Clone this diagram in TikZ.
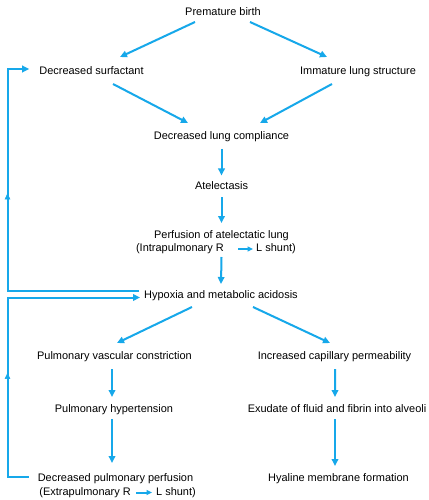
\documentclass[tikz,border=0pt]{standalone}
\usepackage{fontspec}
\setmainfont{Liberation Sans}
\usetikzlibrary{arrows.meta,calc,decorations.markings}
\definecolor{flow}{RGB}{22,168,234}
\begin{document}
\begin{tikzpicture}[x=1bp,y=-1bp,
  lbl/.style={inner sep=0pt,text height=8pt,text depth=2.5pt,font=\fontsize{11}{13}\selectfont},
  arr/.style={draw=flow,line width=2bp,-{Triangle[length=7bp,width=6.5bp]}},
  small/.style={draw=flow,line width=2bp,-{Triangle[length=5.5bp,width=5bp]}},
  midup/.style={postaction={decorate},decoration={markings,mark=at position #1 with {\arrow[flow]{Triangle[length=6bp,width=5.5bp]}}}}]
\useasboundingbox (0,0) rectangle (428,500);
\fill[white] (0,0) rectangle (428,500);
% nodes
\node[lbl] (pb) at (223,12.5) {Premature birth};
\node[lbl] (ds) at (91.5,71.5) {Decreased surfactant};
\node[lbl] (ils) at (358,71.5) {Immature lung structure};
\node[lbl] (dlc) at (221.5,137) {Decreased lung compliance};
\node[lbl] (at) at (221.5,186.5) {Atelectasis};
\node[lbl] (pf) at (221.5,235.5) {Perfusion of atelectatic lung};
\node[lbl,anchor=east] (pfa) at (224,249) {(Intrapulmonary R};
\node[lbl,anchor=west] (pfb) at (256,249) {L shunt)};
\node[lbl] (hy) at (221,295.5) {Hypoxia and metabolic acidosis};
\node[lbl] (pvc) at (114.5,357) {Pulmonary vascular constriction};
\node[lbl] (icp) at (334.5,357) {Increased capillary permeability};
\node[lbl] (ph) at (114,409.5) {Pulmonary hypertension};
\node[lbl] (ex) at (337,409.5) {Exudate of fluid and fibrin into alveoli};
\node[lbl] (dpp) at (115.5,478.5) {Decreased pulmonary perfusion};
\node[lbl,anchor=east] (dpa) at (131,492.5) {(Extrapulmonary R};
\node[lbl,anchor=west] (dpb) at (156,492.5) {L shunt)};
\node[lbl] (hm) at (338.5,478.5) {Hyaline membrane formation};
% connectors
\draw[arr] ($(pb.center)+(-28,9.5)$) -- ($(ds.center)+(28.5,-14.5)$);
\draw[arr] ($(pb.center)+(27,9.5)$) -- ($(ils.center)+(-31,-14.5)$);
\draw[arr] ($(ds.center)+(21.5,12.5)$) -- ($(dlc.center)+(-33.5,-14)$);
\draw[arr] ($(ils.center)+(-26,12.5)$) -- ($(dlc.center)+(38.5,-14)$);
\draw[arr] ($(dlc.center)+(0,12)$) -- ($(at.center)+(0,-11)$);
\draw[arr] ($(at.center)+(0,10.5)$) -- ($(pf.center)+(0,-12.5)$);
\draw[arr] ($(pf.center)+(0,21.5)$) -- ($(hy.center)+(0,-11.5)$);
\draw[arr] ($(hy.center)+(-29,11.5)$) -- ($(pvc.center)+(2.5,-14)$);
\draw[arr] ($(hy.center)+(32,11.5)$) -- ($(icp.center)+(-4.5,-14)$);
\draw[arr] ($(pvc.center)+(-2.5,12)$) -- ($(ph.center)+(-2,-12.5)$);
\draw[arr] ($(ph.center)+(-2,9.5)$) -- ($(dpp.center)+(-3.5,-15.5)$);
\draw[arr] ($(icp.center)+(0.5,12)$) -- ($(ex.center)+(-2,-12.5)$);
\draw[arr] ($(ex.center)+(-2,9.5)$) -- ($(hm.center)+(-3.5,-12.5)$);
% inline shunt arrows
\draw[small] ($(pfa.east)+(14,0)$) -- ($(pfb.west)+(-3,0)$);
\draw[small] ($(dpa.east)+(5,0)$) -- ($(dpb.west)+(-4,0)$);
% feedback loops
\coordinate (l1a) at (7.5,291);
\coordinate (l1b) at (7.5,69);
\draw[arr,line join=miter] ($(hy.west)+(-5,-4.5)$) -- (l1a) -- (l1b) -- ($(ds.west)+(-10,-2.5)$);
\path[midup=0.44] (l1a) -- (l1b);
\coordinate (l2a) at (7.5,477);
\coordinate (l2b) at (7.5,297.5);
\draw[arr,line join=miter] ($(dpp.west)+(-9,-1.5)$) -- (l2a) -- (l2b) -- ($(hy.west)+(-4,2)$);
\path[midup=0.58] (l2a) -- (l2b);
\end{tikzpicture}
\end{document}
